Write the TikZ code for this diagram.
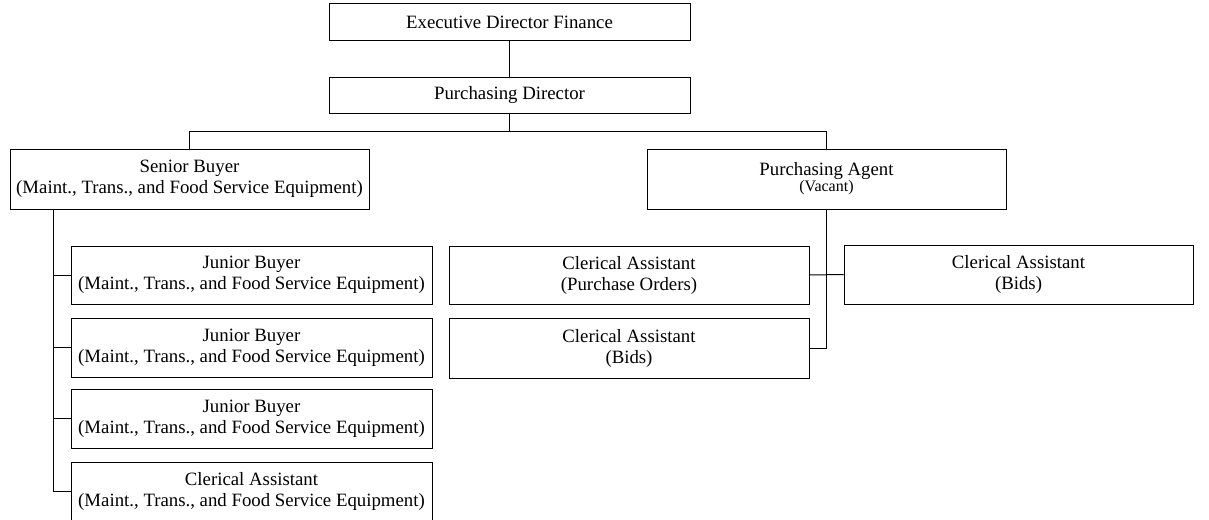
\documentclass[tikz,border=0pt]{standalone}
\usepackage{fontspec}
\setmainfont{Liberation Serif}
\usetikzlibrary{calc}
\begin{document}
\begin{tikzpicture}[x=1pt,y=-1pt,
  every node/.style={inner sep=0pt},
  unit/.style={draw, line width=1pt, rectangle, align=center,
    font=\fontsize{18.8}{21}\selectfont},
  link/.style={draw, line width=1pt}]
\useasboundingbox (0,0) rectangle (1209,519);
\clip (0,0) rectangle (1209,519);

% top of the chain
\node[unit, minimum width=361pt, minimum height=37pt] (exec) at (509.5,22.5) {Executive Director Finance};
\node[unit, minimum width=361pt, minimum height=36pt] (pd) at (509.5,95) {Purchasing Director};

% second level
\node[unit, minimum width=359pt, minimum height=60pt] (sb) at (189.5,179)
  {Senior Buyer\\(Maint., Trans., and Food Service Equipment)};
\node[unit, minimum width=359pt, minimum height=60pt] (pa) at (826.5,179)
  {Purchasing Agent\\[-5pt]{\fontsize{16}{16}\selectfont (Vacant)}};

% staff under the senior buyer
\node[unit, minimum width=361pt, minimum height=58pt] (jb1) at (251.5,275)
  {Junior Buyer\\(Maint., Trans., and Food Service Equipment)};
\node[unit, minimum width=361pt, minimum height=59pt] (jb2) at (251.5,347.5)
  {Junior Buyer\\(Maint., Trans., and Food Service Equipment)};
\node[unit, minimum width=361pt, minimum height=59pt] (jb3) at (251.5,418.5)
  {Junior Buyer\\(Maint., Trans., and Food Service Equipment)};
\node[unit, minimum width=361pt, minimum height=59pt] (ca) at (251.5,491.5)
  {Clerical Assistant\\(Maint., Trans., and Food Service Equipment)};

% staff under the purchasing agent
\node[unit, minimum width=360pt, minimum height=58pt] (cpo) at (629,275)
  {Clerical Assistant\\(Purchase Orders)};
\node[unit, minimum width=360pt, minimum height=60pt] (cb) at (629,348)
  {Clerical Assistant\\(Bids)};
\node[unit, minimum width=349pt, minimum height=59pt] (cbr) at (1018.5,274.5)
  {Clerical Assistant\\(Bids)};

% connectors
\draw[link] (exec.south) -- (pd.north);
\draw[link] (pd.south) -- ++(0,18) coordinate (bus);
\draw[link] (sb.north) |- (bus) -| (pa.north);

\coordinate (spine) at ($(sb.south west)+(44,0)$);
\draw[link] (spine) |- (ca.west);
\draw[link] (spine |- jb1.west) -- (jb1.west);
\draw[link] (spine |- jb2.west) -- (jb2.west);
\draw[link] (spine |- jb3.west) -- (jb3.west);

\draw[link] (pa.south) |- (cb.east);
\draw[link] (cpo.east) -- (cbr.west);
\end{tikzpicture}
\end{document}
